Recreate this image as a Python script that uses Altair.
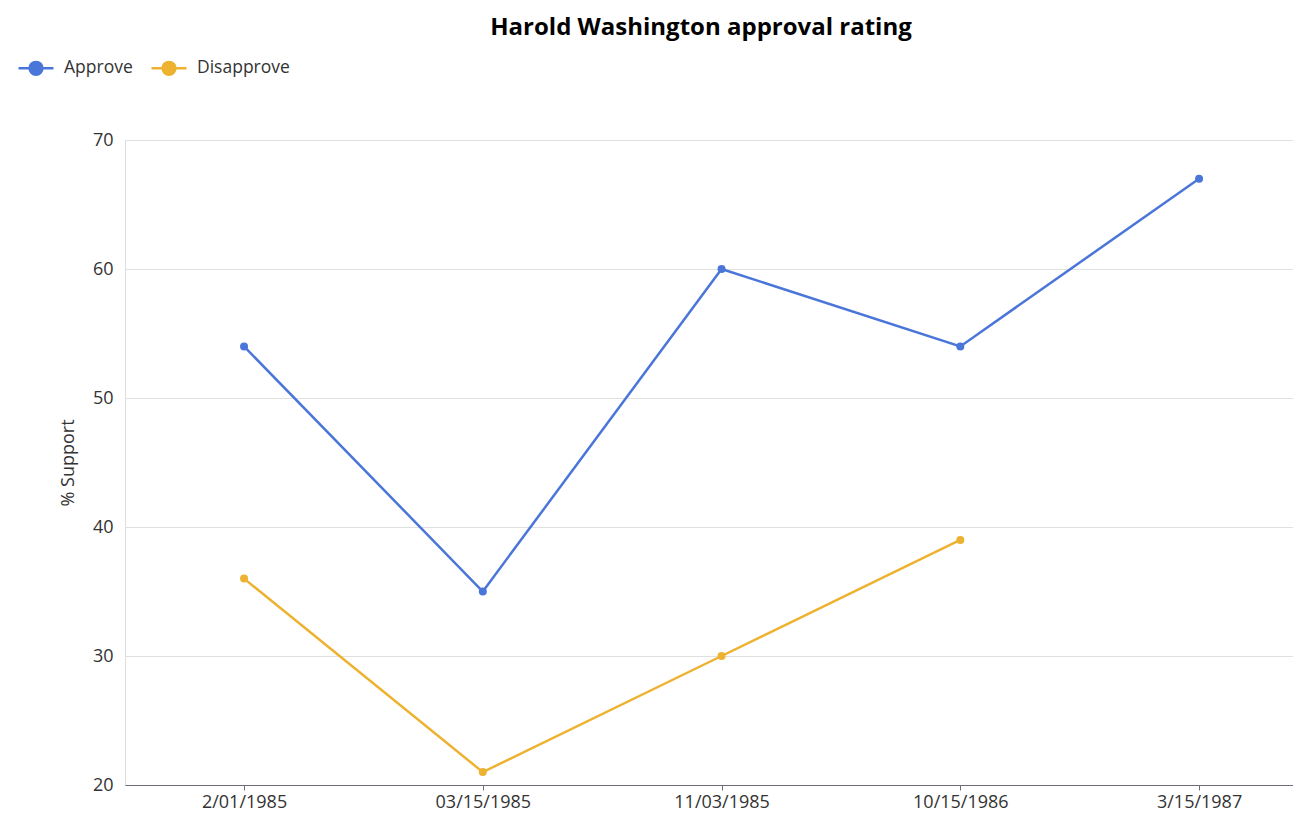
import altair as alt
import pandas as pd

dates = ["2/01/1985", "03/15/1985", "11/03/1985", "10/15/1986", "3/15/1987"]
approve = [54, 35, 60, 54, 67]
disapprove = [36, 21, 30, 39, None]
series = ["Approve", "Disapprove"]
colors = ["#4B76D9", "#EDB230"]

rows = []
for d, a, b in zip(dates, approve, disapprove):
    rows.append({"date": d, "series": "Approve", "value": a})
    if b is not None:
        rows.append({"date": d, "series": "Disapprove", "value": b})
df = pd.DataFrame(rows)

FONT = "Open Sans"
sym = "M-1.5,0H1.5M-0.55,0A0.55,0.55 0 1,0 0.55,0A0.55,0.55 0 1,0 -0.55,0Z"

def legend():
    return alt.Legend(
        title=None, orient="none", legendX=-102, legendY=-85,
        direction="horizontal", symbolType=sym, symbolSize=544,
        symbolStrokeWidth=2.5, labelFontSize=17.5, labelFont=FONT,
        labelColor="#333333", labelOffset=15, columnPadding=13, padding=0,
    )

x = alt.X("date:N", sort=dates,
          scale=alt.Scale(type="point", padding=0.446, align=0.559),
          axis=alt.Axis(title=None, labelAngle=0, labelFontSize=18, labelFont=FONT,
                        labelColor="#333333", domainColor="#6E7079", tickColor="#6E7079",
                        tickSize=5, labelPadding=3, grid=False))
y = alt.Y("value:Q", scale=alt.Scale(domain=[20, 70], nice=False, zero=False),
          axis=alt.Axis(title="% Support", values=[20, 30, 40, 50, 60, 70],
                        labelFontSize=18, labelFont=FONT, labelColor="#333333",
                        labelPadding=12, domain=False, ticks=False,
                        gridColor="#E0E0E0", titleFontSize=18, titleFont=FONT,
                        titleFontWeight="normal", titleColor="#333333", titlePadding=15))

lines = alt.Chart(df).mark_line(strokeWidth=2.5).encode(
    x=x, y=y,
    stroke=alt.Stroke("series:N", scale=alt.Scale(domain=series, range=colors), legend=legend()),
)
points = alt.Chart(df).mark_point(filled=True, size=64, opacity=1).encode(
    x=x, y=y,
    fill=alt.Fill("series:N", scale=alt.Scale(domain=series, range=colors), legend=legend()),
)

chart = alt.layer(lines, points).properties(
    width=1168, height=645,
    title=alt.TitleParams("Harold Washington approval rating", fontSize=24, font=FONT,
                          fontWeight="bold", color="#000000", anchor="middle", dx=-8, offset=15),
    autosize=alt.AutoSizeParams(type="none"),
    padding={"left": 117, "top": 132, "right": 0, "bottom": 27},
).configure_view(stroke=None).configure(background="white")

chart.save("out.html", embed_options={"renderer": "svg", "actions": False})
